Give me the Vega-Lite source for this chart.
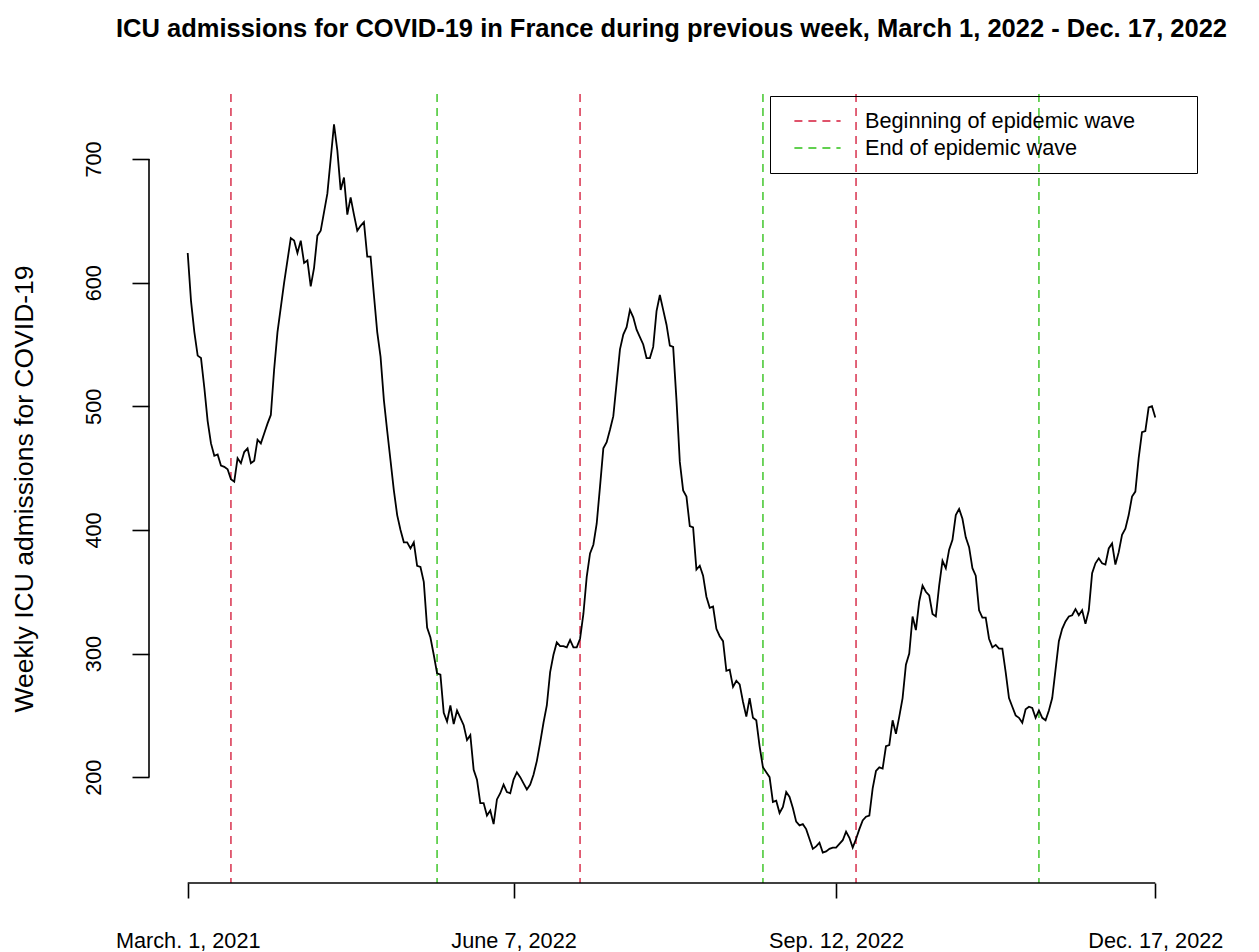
{
  "$schema": "https://vega.github.io/schema/vega-lite/v6.json",
  "width": 1045,
  "height": 789,
  "autosize": {"type": "none"},
  "padding": {"left": 149, "top": 94, "right": 65, "bottom": 69},
  "background": "white",
  "title": {
    "text": "ICU admissions for COVID-19 in France during previous week, March 1, 2022 - Dec. 17, 2022",
    "fontSize": 25.5, "fontWeight": "bold", "font": "Liberation Sans", "color": "black",
    "anchor": "middle", "frame": "group", "offset": 51
  },
  "config": {"view": {"stroke": null}, "font": "Liberation Sans"},
  "data": {"values": [
{"day":0,"admissions":624},{"day":1,"admissions":585},{"day":2,"admissions":560},{"day":3,"admissions":541},{"day":4,"admissions":539},{"day":5,"admissions":515},{"day":6,"admissions":488},{"day":7,"admissions":470},{"day":8,"admissions":460},{"day":9,"admissions":461},
{"day":10,"admissions":452},{"day":11,"admissions":451},{"day":12,"admissions":449},{"day":13,"admissions":441},{"day":14,"admissions":439},{"day":15,"admissions":458},{"day":16,"admissions":454},{"day":17,"admissions":463},{"day":18,"admissions":466},{"day":19,"admissions":454},
{"day":20,"admissions":456},{"day":21,"admissions":473},{"day":22,"admissions":470},{"day":23,"admissions":478},{"day":24,"admissions":486},{"day":25,"admissions":493},{"day":26,"admissions":530},{"day":27,"admissions":560},{"day":28,"admissions":580},{"day":29,"admissions":600},
{"day":30,"admissions":618},{"day":31,"admissions":636},{"day":32,"admissions":634},{"day":33,"admissions":624},{"day":34,"admissions":634},{"day":35,"admissions":616},{"day":36,"admissions":618},{"day":37,"admissions":597},{"day":38,"admissions":612},{"day":39,"admissions":638},
{"day":40,"admissions":642},{"day":41,"admissions":657},{"day":42,"admissions":672},{"day":43,"admissions":700},{"day":44,"admissions":728},{"day":45,"admissions":707},{"day":46,"admissions":675},{"day":47,"admissions":685},{"day":48,"admissions":655},{"day":49,"admissions":669},
{"day":50,"admissions":655},{"day":51,"admissions":642},{"day":52,"admissions":646},{"day":53,"admissions":649},{"day":54,"admissions":621},{"day":55,"admissions":621},{"day":56,"admissions":590},{"day":57,"admissions":560},{"day":58,"admissions":540},{"day":59,"admissions":505},
{"day":60,"admissions":480},{"day":61,"admissions":456},{"day":62,"admissions":432},{"day":63,"admissions":412},{"day":64,"admissions":400},{"day":65,"admissions":390},{"day":66,"admissions":390},{"day":67,"admissions":385},{"day":68,"admissions":390},{"day":69,"admissions":371},
{"day":70,"admissions":370},{"day":71,"admissions":358},{"day":72,"admissions":321},{"day":73,"admissions":313},{"day":74,"admissions":299},{"day":75,"admissions":284},{"day":76,"admissions":283},{"day":77,"admissions":252},{"day":78,"admissions":245},{"day":79,"admissions":258},
{"day":80,"admissions":243},{"day":81,"admissions":254},{"day":82,"admissions":248},{"day":83,"admissions":242},{"day":84,"admissions":230},{"day":85,"admissions":234},{"day":86,"admissions":206},{"day":87,"admissions":198},{"day":88,"admissions":179},{"day":89,"admissions":179},
{"day":90,"admissions":169},{"day":91,"admissions":173},{"day":92,"admissions":162},{"day":93,"admissions":182},{"day":94,"admissions":187},{"day":95,"admissions":194},{"day":96,"admissions":188},{"day":97,"admissions":187},{"day":98,"admissions":198},{"day":99,"admissions":204},
{"day":100,"admissions":200},{"day":101,"admissions":195},{"day":102,"admissions":190},{"day":103,"admissions":194},{"day":104,"admissions":202},{"day":105,"admissions":213},{"day":106,"admissions":228},{"day":107,"admissions":244},{"day":108,"admissions":258},{"day":109,"admissions":285},
{"day":110,"admissions":299},{"day":111,"admissions":309},{"day":112,"admissions":306},{"day":113,"admissions":306},{"day":114,"admissions":305},{"day":115,"admissions":311},{"day":116,"admissions":305},{"day":117,"admissions":305},{"day":118,"admissions":312},{"day":119,"admissions":332},
{"day":120,"admissions":362},{"day":121,"admissions":381},{"day":122,"admissions":388},{"day":123,"admissions":405},{"day":124,"admissions":435},{"day":125,"admissions":466},{"day":126,"admissions":471},{"day":127,"admissions":481},{"day":128,"admissions":492},{"day":129,"admissions":519},
{"day":130,"admissions":546},{"day":131,"admissions":558},{"day":132,"admissions":564},{"day":133,"admissions":578},{"day":134,"admissions":572},{"day":135,"admissions":562},{"day":136,"admissions":556},{"day":137,"admissions":550},{"day":138,"admissions":539},{"day":139,"admissions":539},
{"day":140,"admissions":548},{"day":141,"admissions":577},{"day":142,"admissions":590},{"day":143,"admissions":578},{"day":144,"admissions":566},{"day":145,"admissions":549},{"day":146,"admissions":548},{"day":147,"admissions":505},{"day":148,"admissions":455},{"day":149,"admissions":432},
{"day":150,"admissions":427},{"day":151,"admissions":403},{"day":152,"admissions":402},{"day":153,"admissions":368},{"day":154,"admissions":371},{"day":155,"admissions":363},{"day":156,"admissions":346},{"day":157,"admissions":337},{"day":158,"admissions":338},{"day":159,"admissions":320},
{"day":160,"admissions":314},{"day":161,"admissions":310},{"day":162,"admissions":286},{"day":163,"admissions":287},{"day":164,"admissions":273},{"day":165,"admissions":278},{"day":166,"admissions":275},{"day":167,"admissions":261},{"day":168,"admissions":249},{"day":169,"admissions":264},
{"day":170,"admissions":248},{"day":171,"admissions":246},{"day":172,"admissions":225},{"day":173,"admissions":208},{"day":174,"admissions":204},{"day":175,"admissions":200},{"day":176,"admissions":180},{"day":177,"admissions":181},{"day":178,"admissions":171},{"day":179,"admissions":176},
{"day":180,"admissions":188},{"day":181,"admissions":184},{"day":182,"admissions":175},{"day":183,"admissions":164},{"day":184,"admissions":161},{"day":185,"admissions":162},{"day":186,"admissions":158},{"day":187,"admissions":150},{"day":188,"admissions":142},{"day":189,"admissions":144},
{"day":190,"admissions":147},{"day":191,"admissions":139},{"day":192,"admissions":140},{"day":193,"admissions":142},{"day":194,"admissions":143},{"day":195,"admissions":143},{"day":196,"admissions":146},{"day":197,"admissions":149},{"day":198,"admissions":156},{"day":199,"admissions":151},
{"day":200,"admissions":143},{"day":201,"admissions":150},{"day":202,"admissions":158},{"day":203,"admissions":165},{"day":204,"admissions":168},{"day":205,"admissions":169},{"day":206,"admissions":191},{"day":207,"admissions":205},{"day":208,"admissions":208},{"day":209,"admissions":207},
{"day":210,"admissions":225},{"day":211,"admissions":226},{"day":212,"admissions":246},{"day":213,"admissions":235},{"day":214,"admissions":249},{"day":215,"admissions":264},{"day":216,"admissions":291},{"day":217,"admissions":300},{"day":218,"admissions":330},{"day":219,"admissions":319},
{"day":220,"admissions":342},{"day":221,"admissions":355},{"day":222,"admissions":350},{"day":223,"admissions":347},{"day":224,"admissions":332},{"day":225,"admissions":330},{"day":226,"admissions":355},{"day":227,"admissions":375},{"day":228,"admissions":369},{"day":229,"admissions":384},
{"day":230,"admissions":392},{"day":231,"admissions":412},{"day":232,"admissions":417},{"day":233,"admissions":409},{"day":234,"admissions":394},{"day":235,"admissions":386},{"day":236,"admissions":369},{"day":237,"admissions":363},{"day":238,"admissions":335},{"day":239,"admissions":329},
{"day":240,"admissions":329},{"day":241,"admissions":312},{"day":242,"admissions":305},{"day":243,"admissions":307},{"day":244,"admissions":304},{"day":245,"admissions":304},{"day":246,"admissions":285},{"day":247,"admissions":264},{"day":248,"admissions":257},{"day":249,"admissions":250},
{"day":250,"admissions":248},{"day":251,"admissions":244},{"day":252,"admissions":255},{"day":253,"admissions":257},{"day":254,"admissions":256},{"day":255,"admissions":248},{"day":256,"admissions":254},{"day":257,"admissions":248},{"day":258,"admissions":246},{"day":259,"admissions":254},
{"day":260,"admissions":264},{"day":261,"admissions":287},{"day":262,"admissions":310},{"day":263,"admissions":320},{"day":264,"admissions":326},{"day":265,"admissions":330},{"day":266,"admissions":331},{"day":267,"admissions":336},{"day":268,"admissions":331},{"day":269,"admissions":335},
{"day":270,"admissions":324},{"day":271,"admissions":335},{"day":272,"admissions":365},{"day":273,"admissions":373},{"day":274,"admissions":377},{"day":275,"admissions":373},{"day":276,"admissions":372},{"day":277,"admissions":385},{"day":278,"admissions":389},{"day":279,"admissions":372},
{"day":280,"admissions":382},{"day":281,"admissions":396},{"day":282,"admissions":401},{"day":283,"admissions":412},{"day":284,"admissions":427},{"day":285,"admissions":431},{"day":286,"admissions":458},{"day":287,"admissions":479},{"day":288,"admissions":480},{"day":289,"admissions":499},
{"day":290,"admissions":500},{"day":291,"admissions":491}
  ]},
  "layer": [
    {
      "data": {"values": [
        {"day": 13, "event": "Beginning of epidemic wave"},
        {"day": 75, "event": "End of epidemic wave"},
        {"day": 118, "event": "Beginning of epidemic wave"},
        {"day": 173, "event": "End of epidemic wave"},
        {"day": 201, "event": "Beginning of epidemic wave"},
        {"day": 256, "event": "End of epidemic wave"}
      ]},
      "mark": {"type": "rule", "strokeDash": [8, 6], "strokeWidth": 1.8},
      "encoding": {
        "x": {
          "field": "day", "type": "quantitative",
          "scale": {"domain": [-11.64, 302.64], "nice": false, "zero": false},
          "axis": {
            "values": [0, 98, 195, 291],
            "labelExpr": "datum.value == 0 ? 'March. 1, 2021' : datum.value == 98 ? 'June 7, 2022' : datum.value == 195 ? 'Sep. 12, 2022' : 'Dec. 17, 2022'",
            "domain": false, "grid": false, "tickSize": 15, "tickColor": "black", "tickWidth": 1.6,
            "labelFontSize": 21.7, "labelColor": "black", "labelFont": "Liberation Sans", "labelPadding": 32,
            "labelOverlap": false, "labelFlush": false, "labelBound": false, "title": null
          }
        },
        "color": {
          "field": "event", "type": "nominal",
          "scale": {"domain": ["Beginning of epidemic wave", "End of epidemic wave"], "range": ["#DF536B", "#61D04F"]},
          "legend": {
            "title": null, "orient": "none", "legendX": 621, "legendY": 2,
            "strokeColor": "black", "padding": 13,
            "labelFontSize": 21.7, "labelColor": "black", "labelFont": "Liberation Sans", "labelLimit": 800,
            "labelOffset": 35.5, "rowPadding": 3,
            "symbolType": "M-2.1,0L2.1,0", "symbolSize": 484, "symbolOffset": 22.5,
            "symbolStrokeWidth": 1.8, "symbolDash": [8, 6],
            "labelExpr": "datum.label + '\u2800\u2800\u2800'"
          }
        }
      }
    },
    {
      "mark": {"type": "line", "color": "black", "strokeWidth": 1.8},
      "encoding": {
        "x": {
          "field": "day", "type": "quantitative",
          "scale": {"domain": [-11.64, 302.64], "nice": false, "zero": false},
          "axis": {
            "values": [0, 98, 195, 291],
            "labelExpr": "datum.value == 0 ? 'March. 1, 2021' : datum.value == 98 ? 'June 7, 2022' : datum.value == 195 ? 'Sep. 12, 2022' : 'Dec. 17, 2022'",
            "domain": false, "grid": false, "tickSize": 15, "tickColor": "black", "tickWidth": 1.6,
            "labelFontSize": 21.7, "labelColor": "black", "labelFont": "Liberation Sans", "labelPadding": 32,
            "labelOverlap": false, "labelFlush": false, "labelBound": false, "title": null
          }
        },
        "y": {
          "field": "admissions", "type": "quantitative",
          "scale": {"domain": [114.4, 752.6], "nice": false, "zero": false},
          "axis": {
            "values": [200, 300, 400, 500, 600, 700],
            "domain": false, "grid": false, "tickSize": 17, "tickColor": "black", "tickWidth": 1.6,
            "labelAngle": -90, "labelAlign": "center", "labelBaseline": "bottom",
            "labelFontSize": 21.7, "labelColor": "black", "labelFont": "Liberation Sans", "labelPadding": 27,
            "labelOverlap": false, "labelFlush": false, "labelBound": false,
            "title": "Weekly ICU admissions for COVID-19",
            "titleFontSize": 26.5, "titleFontWeight": "normal", "titleColor": "black", "titleFont": "Liberation Sans",
            "titlePadding": 45
          }
        }
      }
    },
    {
      "mark": {"type": "rule", "color": "black", "strokeWidth": 1.6},
      "encoding": {
        "x": {
          "aggregate": "min", "field": "day", "type": "quantitative",
          "scale": {"domain": [-11.64, 302.64], "nice": false, "zero": false},
          "axis": {
            "values": [0, 98, 195, 291],
            "labelExpr": "datum.value == 0 ? 'March. 1, 2021' : datum.value == 98 ? 'June 7, 2022' : datum.value == 195 ? 'Sep. 12, 2022' : 'Dec. 17, 2022'",
            "domain": false, "grid": false, "tickSize": 15, "tickColor": "black", "tickWidth": 1.6,
            "labelFontSize": 21.7, "labelColor": "black", "labelFont": "Liberation Sans", "labelPadding": 32,
            "labelOverlap": false, "labelFlush": false, "labelBound": false, "title": null
          }
        },
        "x2": {"aggregate": "max", "field": "day"},
        "y": {
          "datum": 114.4, "type": "quantitative",
          "scale": {"domain": [114.4, 752.6], "nice": false, "zero": false},
          "axis": {
            "values": [200, 300, 400, 500, 600, 700],
            "domain": false, "grid": false, "tickSize": 17, "tickColor": "black", "tickWidth": 1.6,
            "labelAngle": -90, "labelAlign": "center", "labelBaseline": "bottom",
            "labelFontSize": 21.7, "labelColor": "black", "labelFont": "Liberation Sans", "labelPadding": 27,
            "labelOverlap": false, "labelFlush": false, "labelBound": false,
            "title": "Weekly ICU admissions for COVID-19",
            "titleFontSize": 26.5, "titleFontWeight": "normal", "titleColor": "black", "titleFont": "Liberation Sans",
            "titlePadding": 45
          }
        }
      }
    },
    {
      "data": {"values": [{}]},
      "mark": {"type": "rule", "color": "black", "strokeWidth": 1.6},
      "encoding": {
        "x": {
          "datum": -11.64, "type": "quantitative",
          "scale": {"domain": [-11.64, 302.64], "nice": false, "zero": false},
          "axis": {
            "values": [0, 98, 195, 291],
            "labelExpr": "datum.value == 0 ? 'March. 1, 2021' : datum.value == 98 ? 'June 7, 2022' : datum.value == 195 ? 'Sep. 12, 2022' : 'Dec. 17, 2022'",
            "domain": false, "grid": false, "tickSize": 15, "tickColor": "black", "tickWidth": 1.6,
            "labelFontSize": 21.7, "labelColor": "black", "labelFont": "Liberation Sans", "labelPadding": 32,
            "labelOverlap": false, "labelFlush": false, "labelBound": false, "title": null
          }
        },
        "y": {
          "datum": 200, "type": "quantitative",
          "scale": {"domain": [114.4, 752.6], "nice": false, "zero": false},
          "axis": {
            "values": [200, 300, 400, 500, 600, 700],
            "domain": false, "grid": false, "tickSize": 17, "tickColor": "black", "tickWidth": 1.6,
            "labelAngle": -90, "labelAlign": "center", "labelBaseline": "bottom",
            "labelFontSize": 21.7, "labelColor": "black", "labelFont": "Liberation Sans", "labelPadding": 27,
            "labelOverlap": false, "labelFlush": false, "labelBound": false,
            "title": "Weekly ICU admissions for COVID-19",
            "titleFontSize": 26.5, "titleFontWeight": "normal", "titleColor": "black", "titleFont": "Liberation Sans",
            "titlePadding": 45
          }
        },
        "y2": {"datum": 700}
      }
    }
  ]
}
